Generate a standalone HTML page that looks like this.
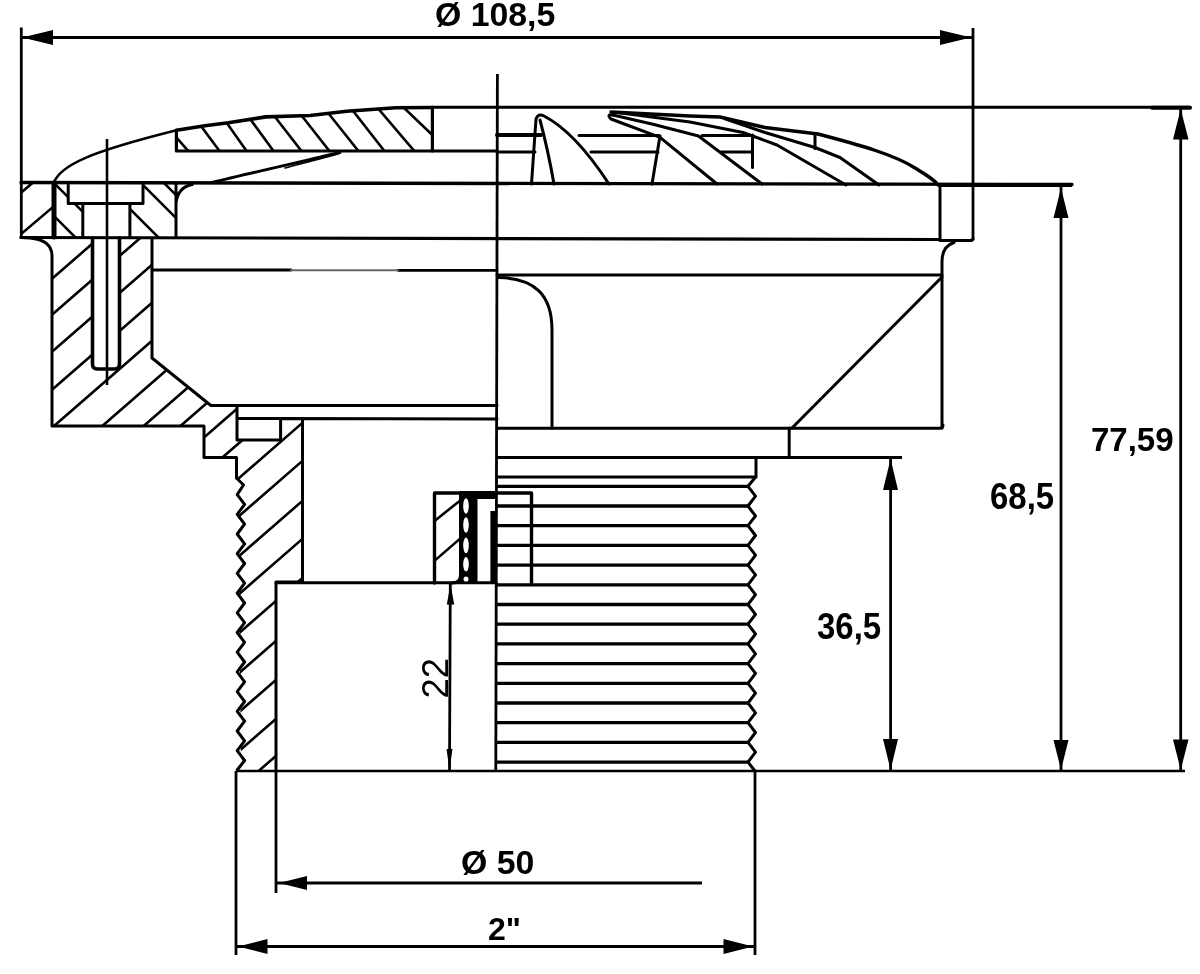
<!DOCTYPE html>
<html><head><meta charset="utf-8"><style>
html,body{margin:0;padding:0;background:#fff;width:1200px;height:974px;overflow:hidden}
svg{display:block;filter:blur(0.5px)}
.t{font-family:"Liberation Sans",sans-serif;font-weight:bold;fill:#000}
</style></head><body>
<svg width="1200" height="974" viewBox="0 0 1200 974">
<defs>
  <clipPath id="cBody"><path d="M52,238 L92.5,238 L92.5,369 L119.5,369 L119.5,238 L152,238 L152,358 L209,404 L237,405 L237,440 L280.6,440 L280.6,419 L302.5,419 L302.5,582 L276,582 L276,770 L241,770 L238,478 L236.5,457.5 L204,457.5 L204,426 L52,426 Z"/></clipPath>
  <clipPath id="cFl"><path d="M21,183 L54,183 L54,237 L21,237 Z"/></clipPath>
  <clipPath id="cSk"><path d="M56,183 L68.2,183 L68.2,203.5 L82.8,203.5 L82.8,237 L56,237 Z M143,183 L176,183 L176,237 L129.9,237 L129.9,203.5 L143,203.5 Z"/></clipPath>
  <clipPath id="cCap"><path d="M176.4,130.3 L205,125.7 L228.3,122.8 L265.7,116.9 L310,115.5 L346.7,111.3 L395.7,107.8 L432.4,107.8 L432.4,151 L176.4,151 Z"/></clipPath>
  <clipPath id="cIns"><path d="M435,493 L460.5,493 L460.5,583 L435,583 Z"/></clipPath>
</defs>
<rect width="1200" height="974" fill="#fff"/>

<!-- HATCH LINES -->
<g fill="none" stroke="#000" stroke-width="2.6">
  <g clip-path="url(#cBody)">
    <path d="M20,306.6 L320,45.6 M20,342.6 L320,81.6 M20,379.6 L320,118.6 M20,417.6 L320,156.6 M20,455.6 L320,194.6 M20,497.6 L320,236.6 M20,533.6 L320,272.6 M20,565.6 L320,304.6 M20,597.6 L320,336.6 M20,633.6 L320,372.6 M20,668.6 L320,407.6 M20,706.6 L320,445.6 M20,746.6 L320,485.6 M20,784.6 L320,523.6 M20,823.6 L320,562.6 M20,863.6 L320,602.6 M20,902.6 L320,641.6 M20,941.6 L320,680.6 M20,978.6 L320,717.6"/>
  </g>
  <g clip-path="url(#cFl)">
    <path d="M15,197.8 L60,159.5 M15,239.2 L60,201.0"/>
  </g>
  <g clip-path="url(#cSk)">
    <path d="M40,202 L200,362 M40,169 L200,329 M40,119 L200,279 M40,82 L200,242 M150,169 L200,219"/>
  </g>
  <g clip-path="url(#cCap)">
    <path d="M170,130 L190,153 M198,122 L221,153 M224,119 L248,153 M248,116 L275,153 M272,113 L303,153 M298,111 L331,153 M325,109 L360,153 M350,107 L386,153 M376,106 L416,153 M401,105 L446,148"/>
  </g>
  <g clip-path="url(#cIns)">
    <path d="M432,523 L462,499 M432,563 L462,537"/>
  </g>
</g>

<g fill="none" stroke="#000" stroke-width="3" stroke-linejoin="round" stroke-linecap="round">
  <!-- ===== CAP ===== -->
  <path d="M53.75,183 C60,165 90,152 176.4,130.3" stroke-width="2.5"/>
  <path d="M176.4,130.3 L205,125.7 L228.3,122.8 L265.7,116.9 L310,115.5 L346.7,111.3 L395.7,107.8 L432.4,107.5" stroke-width="3.6"/>
  <path d="M176.4,130.3 L176.4,151 L432.4,151 L432.4,107.5" stroke-width="3.2"/>
  <path d="M432.4,107.2 L1190,107.2"/>
  <path d="M1152,107.8 L1190,107.8" stroke-width="4"/>
  <path d="M432.4,151 L497,151"/>
  <!-- wedge -->
  <path d="M340,152.5 C300,162 250,173 212,182.5" stroke-width="2.9"/>
  <path d="M338,154 C320,159 300,164 285,168" stroke-width="1.6"/>
  <!-- vanes -->
  <path d="M497,135 L541,135" stroke-width="4"/>
  <path d="M497,152 L535,152"/>
  <path d="M531.5,184 L536,119 Q538,113 544,116 Q575,132 609,184"/>
  <path d="M540,120 Q548,150 554,184"/>
  <path d="M579,135.5 L659,135.5 M591,152 L658,152"/>
  <path d="M660,136 L652,184"/>
  <!-- vane 2 band -->
  <path d="M613,115 Q606,114 611,119 L660,137.3 L717,184"/>
  <path d="M613,115 L654,124.5 L698.5,136 L762,184"/>
  <!-- vane 3 band -->
  <path d="M619,112.8 L690,122 L743,132.5 L777,145 L846,185"/>
  <path d="M725,118.8 L765,132.5 L815,147.5 L840,157.5 L879,185"/>
  <!-- cap right profile -->
  <path d="M611,112 L690,116 L720,117 L765,127.5 L818,134 C860,145 895,155 915,168 C928,176 935,180 938,185" stroke-width="3.4"/>
  <path d="M702,135.5 L753,135.5 M721,152 L752.5,152 M752.5,135 L752.5,167.5 M815,135 L815,148.5"/>
  <!-- ===== FLANGE ===== -->
  <path d="M21,182.5 L1072,184.5" stroke-width="3.4"/>
  <path d="M21,237.5 L940,239.5" stroke-width="3.2"/>
  <path d="M940,240.5 L971,240.5 Q973,240.5 973,238"/>
  <path d="M940,185 L940,240"/>
  <path d="M54,183 L54,237" stroke-width="5"/>
  <path d="M68.2,185 L68.2,203.5 L143,203.5 L143,185"/>
  <path d="M82.8,203.5 L82.8,237 M129.9,203.5 L129.9,237"/>
  <path d="M176,184 L176,237 M176,203 Q178,187 192.3,184.5"/>
  <!-- ===== BODY ===== -->
  <path d="M21,237.5 L30,238 Q52,240 52,256 L52,426 L204,426 L204,457.5 L236.5,457.5 L236.5,478"/>
  <path d="M92.5,238 L92.5,364 Q92.5,369 97.5,369 L114.5,369 Q119.5,369 119.5,364 L119.5,238" stroke-width="3.6"/>
  <path d="M152,238 L152,358 L209,404 L211,405.5 L497,405.5"/>
  <path d="M152,270 L291,270 M398,270.3 L497,270.3" stroke-width="2.8"/>
  <path d="M291,270.2 L398,270.2" stroke-width="2" stroke="#666"/>
  <path d="M237,405.5 L237,440 L280.6,440 L280.6,418.5 L237,418.5 M280.6,418.5 L497,419"/>
  <path d="M302.5,418.5 L302.5,582 L276,582 L276,771"/>
  <path d="M276,582.7 L496,582.7"/>
  <!-- thread zigzag left -->
  <path d="M236.5,478.0 L243.5,485.0 L237.2,494.6 L244.6,504.4 L237.2,514.3 L244.6,524.1 L237.2,534.0 L244.6,543.9 L237.2,553.7 L244.6,563.5 L237.2,573.4 L244.6,583.2 L237.2,593.1 L244.6,603.0 L237.2,612.8 L244.6,622.6 L237.2,632.5 L244.6,642.4 L237.2,652.2 L244.6,662.0 L237.2,671.9 L244.6,681.8 L237.2,691.6 L244.6,701.5 L237.2,711.3 L244.6,721.1 L237.2,731.0 L244.6,740.8 L237.2,750.7 L244.6,760.5 L237.2,770.0"/>
  <!-- right side of center -->
  <path d="M497,275 L942,275"/>
  <path d="M942,428 L942,262 Q942,246 954,242.5"/>
  <path d="M942,277 L792,428"/>
  <path d="M497,428.3 L940,428.3 Q943,428.3 943,425"/>
  <path d="M498,277.5 C535,278 552,295 552,330 L552,428"/>
  <path d="M789.2,428 L789.2,457.5"/>
  <path d="M497,457.5 L789,457.5"/>
  <path d="M756,457.5 L756,477 M497,477 L756,477"/>
  <!-- thread lines -->
  <path stroke-width="3.3" d="M497,486.3 L748,486.3 M497,506.0 L748,506.0 M497,525.7 L748,525.7 M497,545.4 L748,545.4 M497,565.1 L748,565.1 M497,584.8 L748,584.8 M497,604.5 L748,604.5 M497,624.2 L748,624.2 M497,643.9 L748,643.9 M497,663.6 L748,663.6 M497,683.3 L748,683.3 M497,703.0 L748,703.0 M497,722.7 L748,722.7 M497,742.4 L748,742.4 M497,762.1 L748,762.1"/>
  <path d="M755.6,477.0 L748.0,486.3 L755.5,496.1 L748.0,506.0 L755.5,515.9 L748.0,525.7 L755.5,535.5 L748.0,545.4 L755.5,555.2 L748.0,565.1 L755.5,574.9 L748.0,584.8 L755.5,594.6 L748.0,604.5 L755.5,614.3 L748.0,624.2 L755.5,634.0 L748.0,643.9 L755.5,653.8 L748.0,663.6 L755.5,673.4 L748.0,683.3 L755.5,693.1 L748.0,703.0 L755.5,712.8 L748.0,722.7 L755.5,732.5 L748.0,742.4 L755.5,752.2 L748.0,762.1 L755.0,771.0"/>
  <!-- insert -->
  <path d="M434.5,583 L434.5,493 L531.5,493 L531.5,583" stroke-width="3.4"/>
  <path d="M460.5,493 L460.5,575 Q460.5,583 452,583"/>
</g>
<!-- insert solid parts -->
<g fill="#000" stroke="none">
  <rect x="460" y="491" width="17.5" height="92"/>
  <rect x="460" y="491" width="37" height="8"/>
  <rect x="490.4" y="511" width="6.6" height="72"/>
</g>
<g fill="#fff" stroke="none">
  <ellipse cx="466" cy="506" rx="2.8" ry="7.8"/>
  <ellipse cx="466" cy="525" rx="2.8" ry="7.8"/>
  <ellipse cx="466" cy="545.4" rx="2.8" ry="7.8"/>
  <ellipse cx="466" cy="564.3" rx="2.8" ry="7.2"/>
  <ellipse cx="466" cy="579" rx="2.5" ry="2.6"/>
</g>

<!-- CENTER LINE -->
<path d="M497.4,74 L495.8,771" stroke="#000" stroke-width="2.8" fill="none"/>
<path d="M107,139 L107,385" stroke="#000" stroke-width="2.6" fill="none"/>

<!-- DIMENSIONS -->
<g fill="none" stroke="#000" stroke-width="2.8">
  <path d="M21.3,27.5 L21.3,237"/>
  <path d="M973,28 L973,240"/>
  <path d="M21,37.5 L972,37.5" stroke-width="3.2"/>
  <path d="M940,185.5 L1072,185.5"/>
  <path d="M1180.7,107 L1180.7,771"/>
  <path d="M1061,186 L1061,771"/>
  <path d="M890.6,458 L890.6,771"/>
  <path d="M789,457.5 L902,457.5"/>
  <path d="M450.3,583 L449.5,771"/>
  <path d="M236,771 L1185,771" stroke-width="2.5"/>
  <path d="M236,771 L236,955"/>
  <path d="M276,771 L276,893"/>
  <path d="M755,771 L755,955"/>
  <path d="M276,883 L702,883"/>
  <path d="M236,946.5 L755,946.5" stroke-width="2.8"/>
</g>
<g fill="#000" stroke="none">
  <!-- top arrows -->
  <polygon points="22,37.5 53,30 53,45"/>
  <polygon points="971,37.5 940,30 940,45"/>
  <!-- 77,59 -->
  <polygon points="1180.7,109 1173,139.5 1188.5,139.5"/>
  <polygon points="1180.7,770 1173,739.5 1188.5,739.5"/>
  <!-- 68,5 -->
  <polygon points="1061,188 1053.5,218 1068.5,218"/>
  <polygon points="1061,770 1053.5,740 1068.5,740"/>
  <!-- 36,5 -->
  <polygon points="890.6,459 883,490 898,490"/>
  <polygon points="890.6,770 883,739 898,739"/>
  <!-- 22 -->
  <polygon points="450.5,584 446.8,604.5 454.2,604.5"/>
  <polygon points="449.5,770 446.5,749 452.5,749"/>
  <!-- Ø50 -->
  <polygon points="279,883 307,876 307,890"/>
  <!-- 2" -->
  <polygon points="238,946.5 267.5,939 267.5,954"/>
  <polygon points="753,946.5 723.5,939 723.5,954"/>
</g>

<!-- TEXT -->
<text class="t" x="435" y="26" font-size="33.8">Ø 108,5</text>
<text class="t" x="1091" y="451" font-size="33">77,59</text>
<text class="t" x="0" y="0" font-size="33" transform="translate(990,508.5) scale(1,1.1)">68,5</text>
<text class="t" x="0" y="0" font-size="33" transform="translate(817,638.5) scale(1,1.12)">36,5</text>
<text class="t" x="461" y="874" font-size="33.8">Ø 50</text>
<text class="t" x="488" y="940" font-size="32">2"</text>
<text class="t" style="font-weight:normal" x="0" y="0" font-size="37.5" transform="translate(447.5,698.5) rotate(-90) scale(0.97,1)">22</text>
</svg>
</body></html>
